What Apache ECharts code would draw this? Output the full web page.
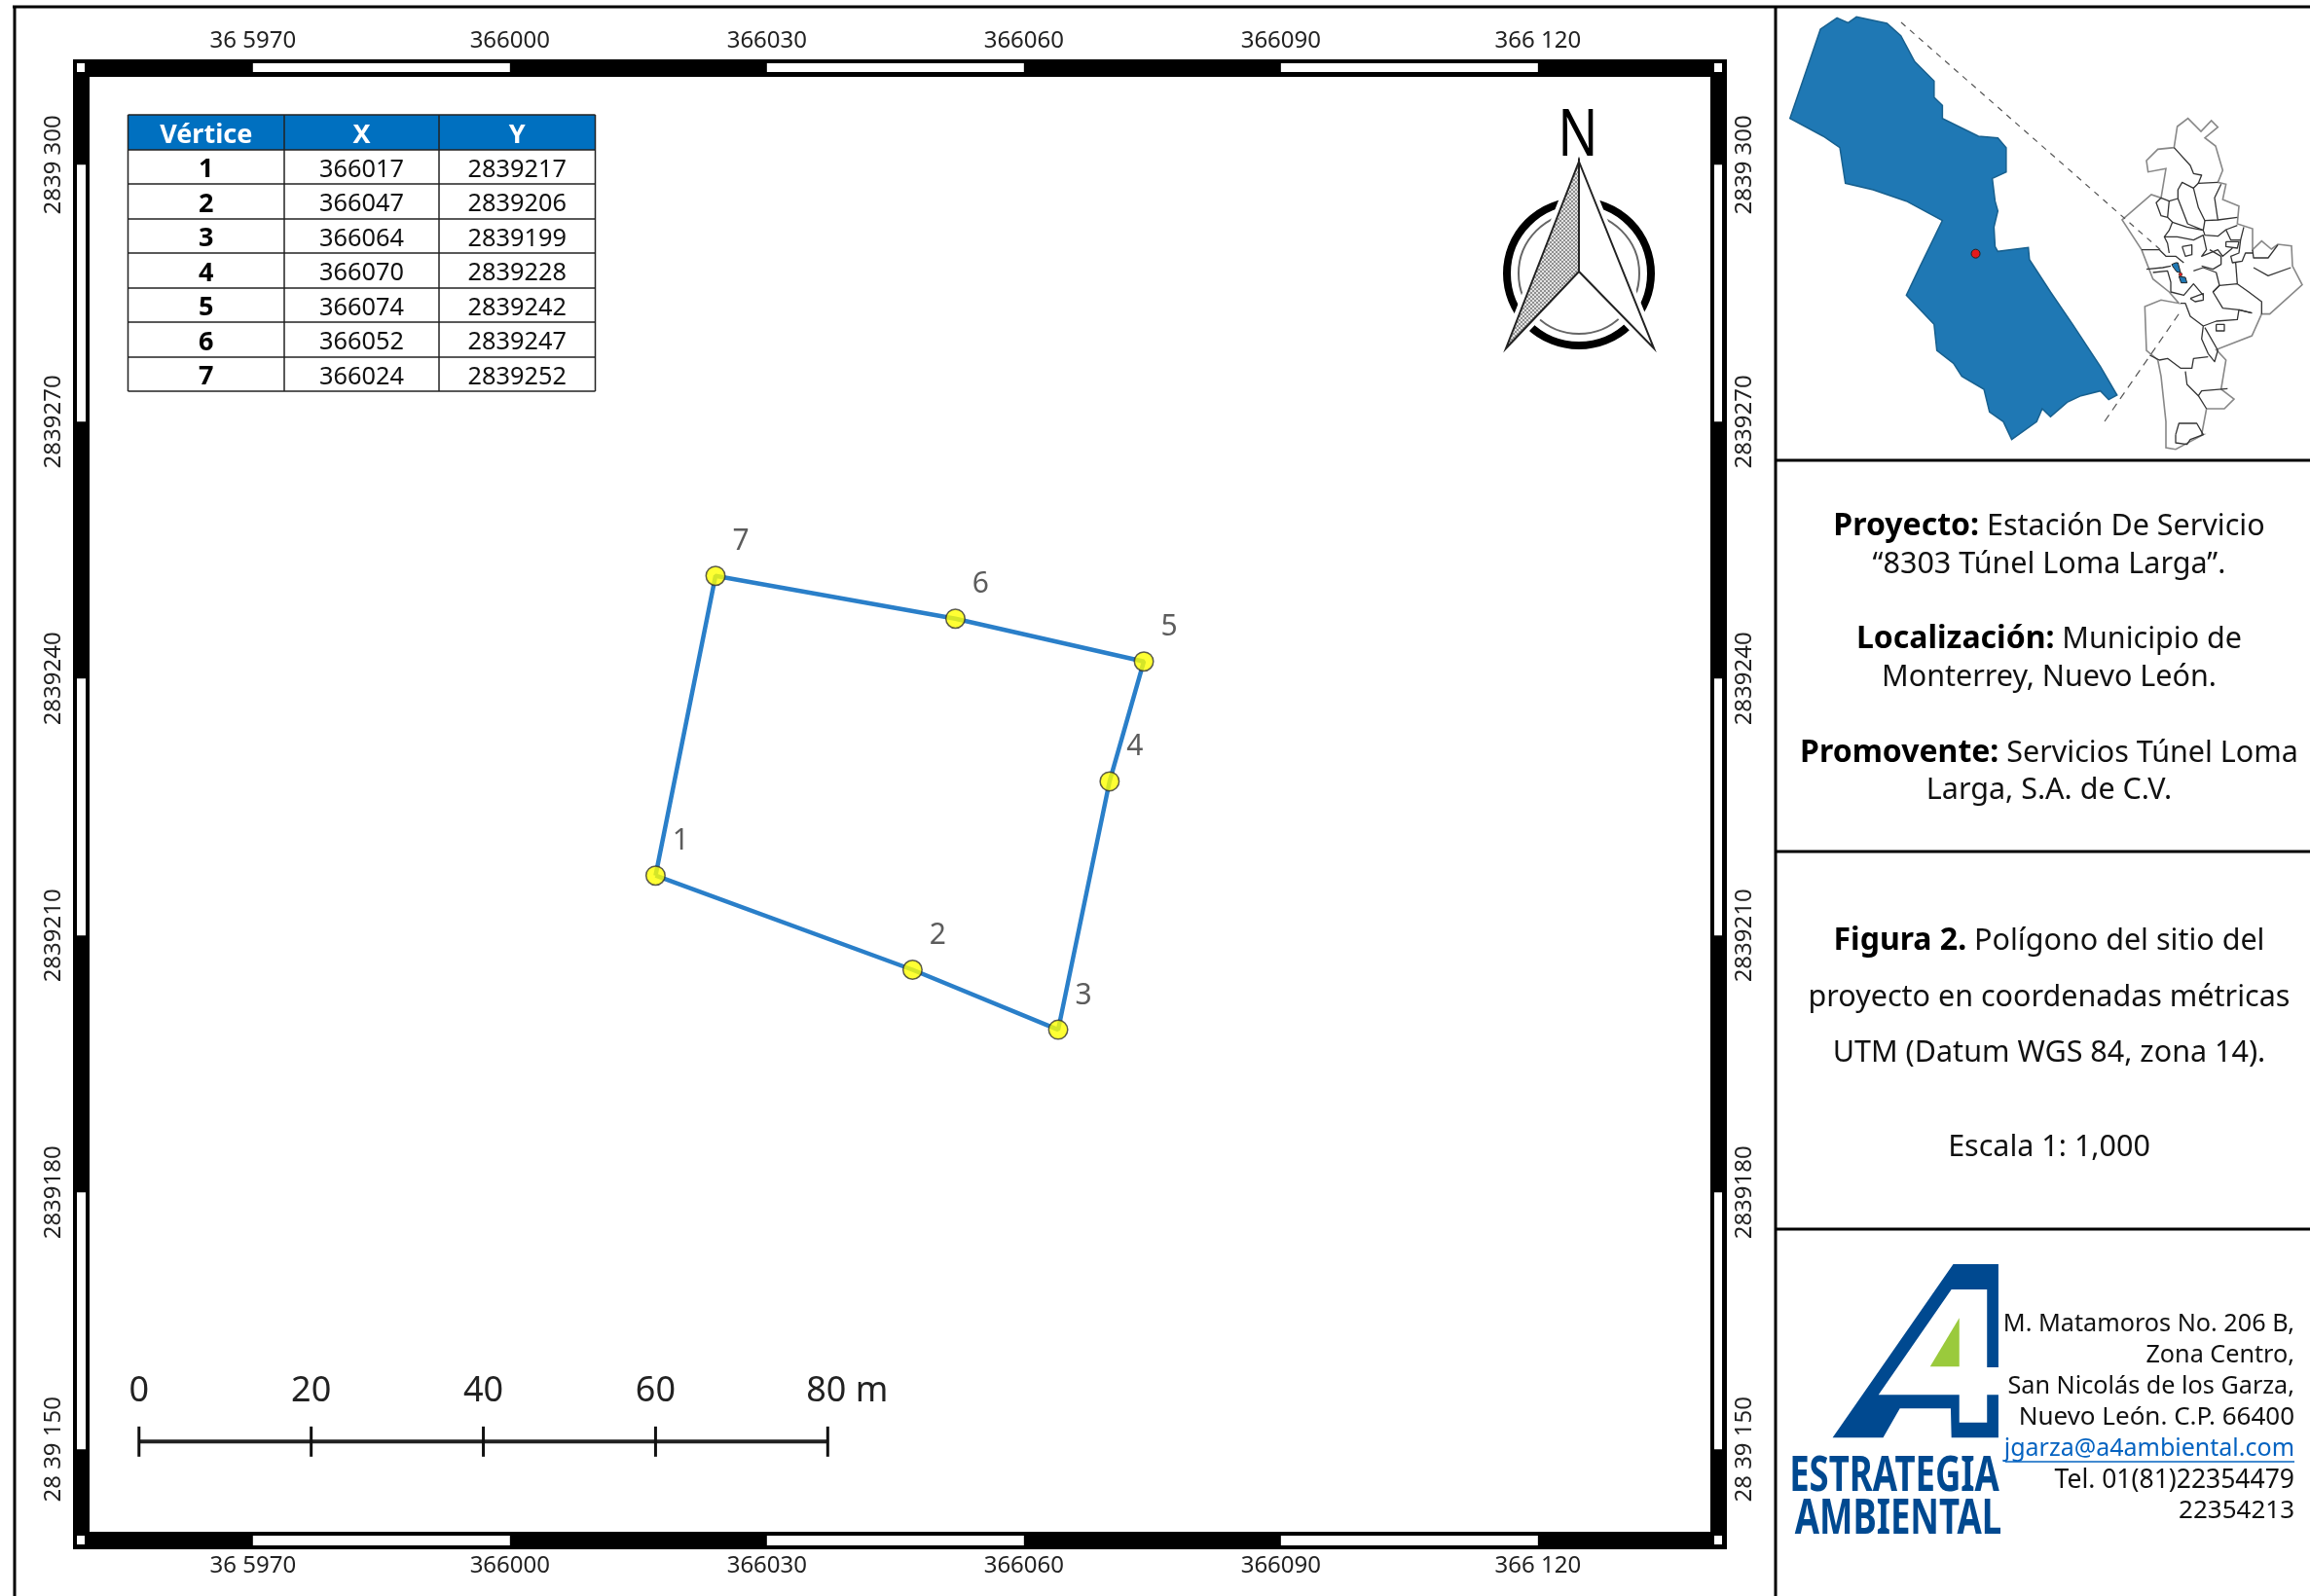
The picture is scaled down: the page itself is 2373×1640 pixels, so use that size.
<!DOCTYPE html>
<html><head><meta charset="utf-8">
<style>html,body{margin:0;padding:0;background:#fff}#c{width:2373px;height:1640px}</style>
<script src="https://cdn.jsdelivr.net/npm/echarts@6/dist/echarts.min.js"></script>
</head><body><div id="c"></div>
<script>
// ---- data
const vertexIds = [1, 2, 3, 4, 5, 6, 7];
const vertexX = [366017, 366047, 366064, 366070, 366074, 366052, 366024];
const vertexY = [2839217, 2839206, 2839199, 2839228, 2839242, 2839247, 2839252];
const tableHeader = ['Vértice', 'X', 'Y'];
const xTicks = [365970, 366000, 366030, 366060, 366090, 366120];
const xTickLabels = ['36 5970', '366000', '366030', '366060', '366090', '366 120'];
const yTicks = [2839150, 2839180, 2839210, 2839240, 2839270, 2839300];
const yTickLabels = ['28 39 150', '2839180', '2839210', '2839240', '2839270', '2839 300'];
const scaleMeters = [0, 20, 40, 60, 80];
const scaleTickX = [365956.7, 365976.8, 365996.9, 366017.0, 366037.1];
const scaleY = 2839150.9;
const xMin = 365950.93, xMax = 366140.13, yMin = 2839140.37, yMax = 2839310.27;
const FONT = '"Noto Sans", sans-serif';

// ---- frame: alternating cells of the graticule ring
const frameCells = [];
[0, 1].forEach(s => {
  frameCells.push({side: s, a: xMin, b: xMax, color: '#000'});
  [[365970, 366000], [366030, 366060], [366090, 366120]].forEach(p => frameCells.push({side: s, a: p[0], b: p[1], color: '#fff'}));
});
[2, 3].forEach(s => {
  frameCells.push({side: s, a: yMin, b: yMax, color: '#000'});
  [[2839270, 2839300], [2839210, 2839240], [2839150, 2839180]].forEach(p => frameCells.push({side: s, a: p[0], b: p[1], color: '#fff'}));
});
function renderFrame(params, api) {
  const c = frameCells[params.dataIndex];
  const black = c.color === '#000';
  const across = {
    0: black ? [61, 79] : [65, 74],
    1: black ? [1574, 1592] : [1578, 1588],
    2: black ? [75, 92] : [79, 88],
    3: black ? [1757, 1774] : [1761, 1769]
  }[c.side];
  let rect;
  if (c.side < 2) {
    let x0 = api.coord([c.a, yMin])[0], x1 = api.coord([c.b, yMin])[0];
    if (black) { x0 = 75; x1 = 1774; }
    rect = {x: x0, y: across[0], width: x1 - x0, height: across[1] - across[0]};
  } else {
    let y0 = api.coord([xMin, c.b])[1], y1 = api.coord([xMin, c.a])[1];
    if (black) { y0 = 61; y1 = 1592; }
    rect = {x: across[0], y: y0, width: across[1] - across[0], height: y1 - y0};
  }
  return {type: 'rect', shape: rect, style: {fill: c.color}};
}

// ---- graphic helpers
const g = [];
const line = (x1, y1, x2, y2, stroke, w, dash) => g.push({type: 'line', silent: true, z: 3, shape: {x1, y1, x2, y2}, style: {stroke, lineWidth: w, lineDash: dash || null}});
const poly = (pts, fill, stroke, w) => g.push({type: 'polygon', silent: true, z: 2, shape: {points: pts}, style: {fill, stroke: stroke || null, lineWidth: w || 0}});
const pline = (pts, stroke, w) => g.push({type: 'polyline', silent: true, z: 2, shape: {points: pts}, style: {fill: 'none', stroke, lineWidth: w, lineJoin: 'round'}});
const text = (x, y, t, size, opt) => {
  opt = opt || {};
  g.push({type: 'text', silent: true, z: 5, x, y, scaleX: opt.scaleX || 1, style: {text: t, font: (opt.weight || 'normal') + ' ' + size + 'px ' + (opt.family || FONT), fill: opt.fill || '#111', textAlign: opt.align || 'center', textVerticalAlign: 'middle'}});
};

// ---- layout rules
line(13, 7, 2373, 7, '#000', 3);
line(15, 7, 15, 1640, '#000', 3);
line(1824, 7, 1824, 1640, '#000', 3);
line(1824, 473, 2373, 473, '#000', 3);
line(1824, 875, 2373, 875, '#000', 3);
line(1824, 1263, 2373, 1263, '#000', 3);

// corner squares of the ring
[[79, 65], [1761, 65], [79, 1578], [1761, 1578]].forEach(p => g.push({type: 'rect', silent: true, z: 60, shape: {x: p[0], y: p[1], width: 8, height: 9}, style: {fill: '#fff'}}));

// ---- coordinate table
const tCols = [131.5, 292, 451, 611.5];
const tRows = [118, 154, 189, 225, 260, 296, 331, 367, 402];
g.push({type: 'rect', silent: true, z: 2, shape: {x: tCols[0], y: tRows[0], width: tCols[3] - tCols[0], height: tRows[1] - tRows[0]}, style: {fill: '#0070c0'}});
tCols.forEach(x => line(x, tRows[0], x, tRows[8], '#222', 1.5));
tRows.forEach(y => line(tCols[0], y, tCols[3], y, '#222', 1.5));
const cx = i => (tCols[i] + tCols[i + 1]) / 2, cy = i => (tRows[i] + tRows[i + 1]) / 2 + 3;
tableHeader.forEach((h, i) => text(cx(i), cy(0), h, 27, {weight: 'bold', fill: '#fff'}));
vertexIds.forEach((id, r) => {
  text(cx(0), cy(r + 1), String(id), 27, {weight: 'bold', fill: '#000'});
  text(cx(1), cy(r + 1), String(vertexX[r]), 25.3, {fill: '#111'});
  text(cx(2), cy(r + 1), String(vertexY[r]), 25.3, {fill: '#111'});
});

// ---- north arrow
const stipple = document.createElement('canvas');
stipple.width = stipple.height = 4;
(function () {
  const ctx = stipple.getContext('2d');
  ctx.fillStyle = '#e2e2e2'; ctx.fillRect(0, 0, 4, 4);
  ctx.fillStyle = '#8f8f8f'; ctx.fillRect(0, 0, 2, 2); ctx.fillRect(2, 2, 2, 2);
})();
g.push({type: 'circle', silent: true, z: 2, shape: {cx: 1622, cy: 281, r: 74}, style: {fill: 'none', stroke: '#000', lineWidth: 8}});
g.push({type: 'circle', silent: true, z: 2, shape: {cx: 1622, cy: 281, r: 62}, style: {fill: 'none', stroke: '#666', lineWidth: 2}});
poly([[1622, 166], [1547, 358], [1622, 279], [1699, 358]], '#fff', '#fff', 10);
poly([[1622, 166], [1547, 358], [1622, 279]], {image: stipple, repeat: 'repeat'}, '#222', 2);
poly([[1622, 166], [1699, 358], [1622, 279]], '#fff', '#222', 2);
text(1621, 141, 'N', 68, {scaleX: 0.8, fill: '#000'});

// ---- inset map: municipality
const muni = [[715,55],[735,70],[750,52],[805,72],[830,110],[855,190],[890,250],[890,300],[905,325],[905,365],[970,420],[1005,425],[1020,455],[1020,530],[995,550],[1000,620],[1005,650],[998,700],[1000,760],[1005,775],[1060,763],[1062,800],[1100,900],[1140,1000],[1190,1130],[1220,1218],[1205,1232],[1190,1205],[1155,1220],[1130,1240],[1100,1285],[1085,1260],[1075,1300],[1030,1355],[1015,1300],[990,1270],[980,1200],[940,1160],[925,1120],[895,1080],[890,1000],[840,910],[865,820],[905,680],[840,620],[780,585],[730,565],[720,455],[690,420],[630,365],[685,90]];
poly(muni.map(p => [1480 + p[0] / 1.756, p[1] / 3]), '#1f78b4', '#17608f', 1.5);
g.push({type: 'circle', silent: true, z: 3, shape: {cx: 1480 + 965 / 1.756, cy: 782 / 3, r: 4.5}, style: {fill: '#e31a1c', stroke: '#222', lineWidth: 1}});
line(1953, 23, 2222, 259, '#555', 1.2, [6, 6]);
line(2162, 433, 2240, 320, '#555', 1.2, [8, 6]);

// ---- inset map: state outline
const st = p => [2150 + p[0] / 3, 100 + p[1] / 3];
const stateOutline = [[260,90],[293,65],[333,105],[365,72],[385,92],[345,125],[378,150],[400,225],[385,262],[410,268],[400,315],[450,335],[445,390],[492,405],[492,470],[520,443],[550,468],[570,453],[612,458],[615,520],[645,578],[545,668],[520,668],[490,735],[380,778],[410,810],[395,900],[435,930],[405,960],[350,960],[335,1040],[340,1040],[255,1085],[225,1080],[225,1000],[210,860],[200,810],[165,780],[160,645],[210,625],[265,635],[235,600],[185,560],[150,470],[90,378],[180,300],[210,310],[225,220],[170,230],[165,195],[200,160],[250,155]];
poly(stateOutline.map(st), '#fff', '#888', 1.6);
const stateInner = [
 [[250,155],[300,210],[310,235],[335,240],[325,265],[385,262]],
 [[325,265],[310,280],[325,340],[345,380],[385,378],[375,310],[395,268]],
 [[385,378],[445,370]],
 [[345,380],[340,410]],
 [[210,310],[235,320],[262,312],[262,285],[275,262],[310,280]],
 [[262,312],[292,390],[340,410]],
 [[235,320],[230,370],[245,385],[235,410],[220,430],[230,450],[235,480]],
 [[210,310],[195,325],[210,365],[230,370]],
 [[245,385],[290,400],[340,410],[345,425],[385,428],[410,408],[445,395]],
 [[220,430],[260,430],[310,440],[340,425],[350,470],[335,490],[385,470],[400,490],[430,465]],
 [[410,408],[425,440],[455,440],[465,400]],
 [[455,440],[450,480],[425,490],[430,510],[460,505],[470,480],[492,480]],
 [[492,470],[495,495],[540,495],[570,455]],
 [[150,470],[205,470],[225,490],[255,490],[280,510]],
 [[275,460],[285,490],[305,485],[305,455],[275,460]],
 [[410,445],[450,445],[445,465],[410,460],[410,445]],
 [[360,470],[395,490],[395,515],[370,530],[335,520]],
 [[165,530],[215,525],[240,520]],
 [[185,540],[230,535],[240,570],[240,600],[280,610],[310,575],[340,610]],
 [[310,535],[340,525],[380,540],[390,580],[370,600],[400,650],[450,655],[490,665]],
 [[370,600],[390,580],[445,575],[480,600],[520,630],[520,668]],
 [[440,510],[445,575]],
 [[495,525],[540,550],[610,525]],
 [[270,635],[285,635],[300,675],[340,705],[335,745],[355,790],[375,815],[385,780],[345,710]],
 [[340,705],[380,690],[445,685],[450,655],[490,665]],
 [[300,620],[340,605],[340,625],[315,630],[300,620]],
 [[380,700],[405,700],[405,720],[380,720],[380,700]],
 [[175,795],[205,810],[230,805],[270,835],[305,835],[310,805],[355,800]],
 [[285,845],[290,885],[325,920],[335,905],[415,898]],
 [[325,920],[350,960]],
 [[255,1040],[265,1005],[320,1005],[340,1040],[300,1055],[290,1070],[255,1065],[255,1040]]
];
stateInner.forEach(l => pline(l.map(st), '#333', 1.3));
poly([[243,515],[255,510],[262,510],[270,540],[258,538],[245,520]].map(st), '#1f78b4', '#222', 1);
poly([[265,552],[285,555],[290,572],[272,572]].map(st), '#1f78b4', '#222', 1);
g.push({type: 'circle', silent: true, z: 3, shape: {cx: 2150 + 270 / 3, cy: 100 + 546 / 3, r: 1.8}, style: {fill: '#e31a1c', stroke: '#222', lineWidth: .6}});

// ---- project text
const rich = {b: {font: 'bold 32px ' + FONT, fill: '#000'}, n: {font: '30.5px ' + FONT, fill: '#111'}};
const richText = (y, t) => g.push({type: 'text', silent: true, z: 5, x: 2105, y, style: {text: t, rich, textAlign: 'center', textVerticalAlign: 'middle', font: '30.5px ' + FONT}});
richText(541, '{b|Proyecto:}{n| Estación De Servicio}');
richText(580, '{n|“8303 Túnel Loma Larga”.}');
richText(657, '{b|Localización:}{n| Municipio de}');
richText(696, '{n|Monterrey, Nuevo León.}');
richText(774, '{b|Promovente:}{n| Servicios Túnel Loma}');
richText(812, '{n|Larga, S.A. de C.V.}');
richText(967, '{b|Figura 2.}{n| Polígono del sitio del}');
richText(1025, '{n|proyecto en coordenadas métricas}');
richText(1082, '{n|UTM (Datum WGS 84, zona 14).}');
richText(1179, '{n|Escala 1: 1,000}');

// ---- logo
const lg = p => [1800 + p[0] / 2.736, 1250 + p[1] / 3];
poly([[565,147],[692,147],[692,465],[660,465],[660,225],[560,225],[355,550],[582,550],[582,635],[660,635],[660,550],[692,550],[692,682],[560,682],[558,592],[415,592],[368,682],[226,682]].map(lg), '#004990');
poly([[582,313],[582,463],[500,463]].map(lg), '#9aca3c');
text(1946, 1518, 'ESTRATEGIA', 50, {weight: 'bold', scaleX: 0.73, fill: '#004990'});
text(1950, 1562, 'AMBIENTAL', 50, {weight: 'bold', scaleX: 0.73, fill: '#004990'});

// ---- contact
const contact = ['M. Matamoros No. 206 B,', 'Zona Centro,', 'San Nicolás de los Garza,', 'Nuevo León. C.P. 66400', 'jgarza@a4ambiental.com', 'Tel. 01(81)22354479', '22354213'];
const contactY = [1361, 1393, 1425, 1457, 1489, 1521, 1553];
const contactSize = [25.2, 25.2, 25.2, 26, 25, 26.5, 26];
contact.forEach((t, i) => text(2357, contactY[i], t, contactSize[i], {align: 'right', fill: i === 4 ? '#0563c1' : '#111'}));
line(2060, 1502, 2357, 1502, '#0563c1', 1.5);

const scaleData = scaleMeters.map((m, i) => ({
  value: [scaleTickX[i], scaleY],
  label: {formatter: i === scaleMeters.length - 1 ? m + ' m' : String(m), offset: i === scaleMeters.length - 1 ? [20, 0] : [0, 0]}
}));
const axisBase = {type: 'value', axisLine: {show: false}, axisTick: {show: false}, splitLine: {show: false}};
const xLab = v => xTickLabels[xTicks.indexOf(v)] || '';
const yLab = v => yTickLabels[yTicks.indexOf(v)] || '';
const labelStyle = {fontFamily: FONT, fontSize: 24, color: '#222', hideOverlap: false, showMinLabel: true, showMaxLabel: true};

const option = {
  animation: false,
  backgroundColor: '#fff',
  grid: {left: 92, top: 79, width: 1665, height: 1495, containLabel: false},
  xAxis: [
    Object.assign({}, axisBase, {position: 'top', min: xMin, max: xMax, axisLabel: Object.assign({}, labelStyle, {customValues: xTicks, formatter: xLab, margin: 25})}),
    Object.assign({}, axisBase, {position: 'bottom', min: xMin, max: xMax, axisLabel: Object.assign({}, labelStyle, {customValues: xTicks, formatter: xLab, margin: 23})})
  ],
  yAxis: [
    Object.assign({}, axisBase, {position: 'left', min: yMin, max: yMax, axisLabel: Object.assign({}, labelStyle, {customValues: yTicks, formatter: yLab, rotate: 90, margin: 25})}),
    Object.assign({}, axisBase, {position: 'right', min: yMin, max: yMax, axisLabel: Object.assign({}, labelStyle, {customValues: yTicks, formatter: yLab, rotate: 90, margin: 23})})
  ],
  graphic: {elements: g},
  series: [
    {type: 'custom', name: 'marco', silent: true, z: 50, clip: false, renderItem: renderFrame, data: frameCells.map(c => [c.side, c.a, c.b])},
    {type: 'line', name: 'polígono', silent: true, z: 10, symbol: 'none', lineStyle: {color: '#2a7fc9', width: 4.5},
      data: vertexX.concat(vertexX[0]).map((x, i) => [x, vertexY.concat(vertexY[0])[i]])},
    {type: 'scatter', name: 'vértices', silent: true, z: 11, symbol: 'circle', symbolSize: 19.5,
      itemStyle: {color: '#ffff00', borderColor: '#333', borderWidth: 1.5},
      label: {show: true, position: 'inside', offset: [26, -35], fontFamily: FONT, fontSize: 30, color: '#333', formatter: p => String(vertexIds[p.dataIndex])},
      data: vertexX.map((x, i) => [x, vertexY[i]])},
    {type: 'line', name: 'escala', silent: true, z: 12, symbol: 'rect', symbolSize: [3, 31],
      itemStyle: {color: '#111'}, lineStyle: {color: '#222', width: 4},
      label: {show: true, position: 'top', distance: 18, fontFamily: FONT, fontSize: 36, color: '#222'},
      data: scaleData}
  ]
};
echarts.init(document.getElementById('c'), null, {renderer: 'canvas'}).setOption(option);
</script></body></html>
